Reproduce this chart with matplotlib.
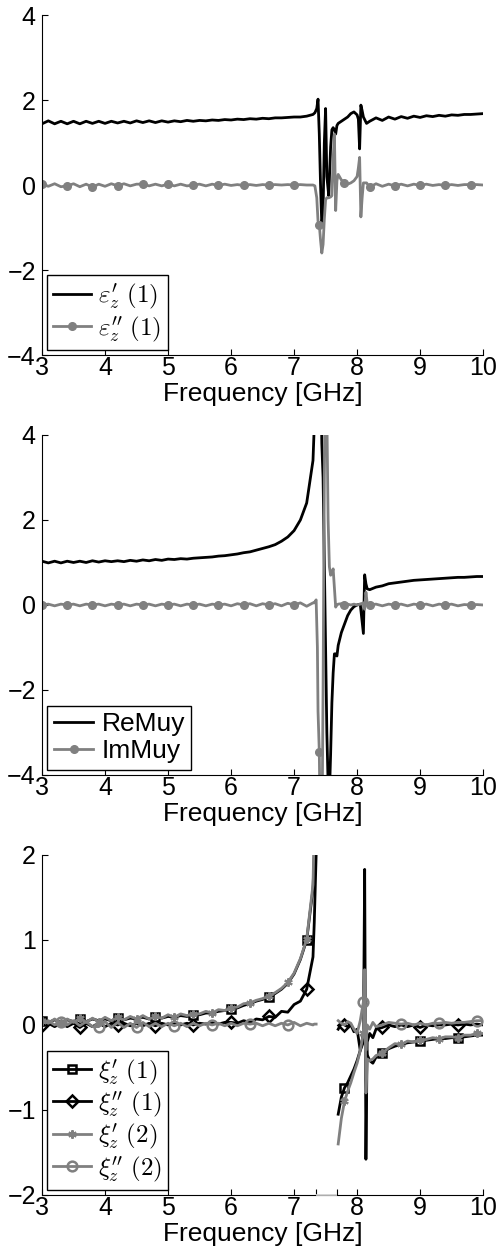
import numpy as np
import matplotlib
matplotlib.use('Agg')
import matplotlib.pyplot as plt

plt.rcParams['font.family'] = ['Liberation Sans', 'DejaVu Sans']
plt.rcParams['mathtext.fontset'] = 'cm'
plt.rcParams['font.size'] = 17

GRAY = '#808080'

# ---------------- panel 1 : permittivity ----------------
f_lo = np.round(np.arange(3.0, 7.31, 0.1), 2)
f_hi = np.round(np.arange(8.3, 10.01, 0.1), 2)
f1_res = [7.33, 7.36, 7.38, 7.40, 7.42, 7.44, 7.46, 7.48, 7.50, 7.52, 7.55, 7.58,
          7.60, 7.62, 7.64, 7.66, 7.68, 7.70, 7.75, 7.80, 7.85, 7.90, 7.95, 8.00,
          8.02, 8.04, 8.06, 8.08, 8.10, 8.15, 8.20]
f1 = np.concatenate([f_lo, f1_res, f_hi])

eps_re = [1.44, 1.51, 1.44, 1.50, 1.44, 1.50, 1.44, 1.50, 1.45, 1.50, 1.45, 1.50,
          1.46, 1.50, 1.46, 1.51, 1.47, 1.51, 1.47, 1.51, 1.48, 1.51, 1.49, 1.52,
          1.50, 1.52, 1.51, 1.53, 1.52, 1.54, 1.53, 1.55, 1.54, 1.56, 1.55, 1.57,
          1.56, 1.58, 1.58, 1.59, 1.60, 1.60, 1.62, 1.66,
          1.70, 1.80, 2.02, 1.20, 0.00, -0.95, -0.60, 1.00, 1.80, 0.20, -0.25, 0.90,
          1.30, 1.35, 1.30, 1.20, 1.40, 1.45, 1.50, 1.55, 1.60, 1.68, 1.72, 1.65,
          1.55, 0.85, 1.88, 1.75, 1.60, 1.45, 1.50,
          1.58, 1.52, 1.60, 1.55, 1.61, 1.57, 1.62, 1.59, 1.63, 1.61, 1.64, 1.62,
          1.65, 1.64, 1.66, 1.66, 1.67, 1.68]
eps_im = [0.02, -0.03, 0.03, -0.04, -0.02, 0.03, -0.04, 0.02, -0.05, 0.02, -0.03, 0.03,
          -0.02, 0.03, -0.02, 0.02, 0.02, -0.02, 0.02, -0.02, 0.02, -0.02, 0.02, -0.02,
          0.00, 0.02, -0.02, 0.02, -0.01, 0.02, -0.01, 0.01, -0.01, 0.01, -0.01, 0.01,
          0.00, 0.01, 0.00, 0.01, 0.00, 0.01, 0.00, 0.00,
          -0.02, -0.30, -0.85, -0.93, -1.30, -1.60, -1.40, -0.80, -0.35, -0.30, -0.30, -0.28,
          -0.25, 0.60, 1.20, -0.60, 0.10, 0.25, 0.12, 0.05, 0.02, 0.05, 0.10, 0.20,
          0.40, 0.65, -0.75, -0.30, 0.05, 0.05, -0.05,
          0.03, -0.03, 0.02, -0.02, 0.02, -0.02, 0.02, -0.01, 0.02, -0.01, 0.01, -0.01,
          0.01, -0.01, 0.01, 0.01, 0.01, 0.00]

# ---------------- panel 2 : permeability ----------------
f2_res = [7.32, 7.35, 7.37, 7.38, 7.40, 7.42, 7.44, 7.46, 7.48, 7.50, 7.52, 7.54,
          7.56, 7.58, 7.60, 7.62, 7.64, 7.66, 7.68, 7.70, 7.75, 7.80, 7.85, 7.90,
          7.95, 8.00, 8.05, 8.10, 8.12, 8.14, 8.16, 8.20]
f2 = np.concatenate([f_lo, f2_res, f_hi])

mu_re = [1.03, 0.99, 1.03, 0.99, 1.03, 1.00, 1.03, 1.00, 1.04, 1.01, 1.04, 1.02,
         1.04, 1.02, 1.05, 1.03, 1.06, 1.04, 1.07, 1.05, 1.08, 1.07, 1.09, 1.08,
         1.10, 1.11, 1.12, 1.13, 1.15, 1.16, 1.18, 1.20, 1.23, 1.25, 1.29, 1.33,
         1.37, 1.42, 1.50, 1.60, 1.75, 2.00, 2.40, 3.40,
         4.20, 7.00, 9.00, 9.00, 8.00, 6.00, 3.80, 3.00, 1.00, -1.00, -3.00, -4.20,
         -4.50, -3.50, -2.30, -1.60, -1.15, -1.15, -1.20, -0.95, -0.65, -0.45, -0.25, -0.12,
         -0.04, 0.00, 0.02, -0.67, 0.71, 0.50, 0.38, 0.36,
         0.42, 0.45, 0.50, 0.52, 0.54, 0.56, 0.58, 0.59, 0.60, 0.61, 0.62, 0.63,
         0.64, 0.65, 0.65, 0.66, 0.67, 0.67]
mu_im = [0.00, 0.02, -0.02, 0.02, 0.00, 0.02, -0.02, 0.02, 0.00, 0.02, -0.02, 0.02,
         0.00, 0.02, -0.02, 0.02, 0.00, 0.02, -0.02, 0.02, 0.00, 0.02, -0.02, 0.02,
         0.00, 0.02, -0.02, 0.02, 0.00, 0.02, -0.02, 0.03, 0.00, 0.03, -0.02, 0.03,
         0.00, 0.03, -0.02, 0.04, 0.00, 0.05, -0.03, 0.05,
         0.05, 0.12, -1.00, -2.50, -3.45, -6.00, -6.00, -2.00, 3.00, 6.00, 4.50, 2.00,
         0.90, 0.70, 0.75, 0.85, 0.40, -0.05, 0.00, 0.02, 0.03, 0.00, 0.02, 0.00,
         0.02, 0.00, 0.02, 0.05, -0.10, 0.30, 0.05, 0.00,
         0.02, -0.02, 0.02, 0.00, 0.02, -0.02, 0.02, 0.00, 0.02, -0.02, 0.02, 0.00,
         0.02, -0.02, 0.01, 0.00, 0.01, 0.00]

# ---------------- panel 3 : magnetoelectric ----------------
gap = [7.35, 7.68]
f3_mid = [7.32, 7.35, 7.50]
f3_right = [7.70, 7.75, 7.80, 7.85, 7.90, 7.95, 8.00, 8.05, 8.10, 8.12, 8.14, 8.16,
            8.20, 8.25]
f3 = np.concatenate([f_lo, f3_mid, f3_right, f_hi])
nan = np.nan

xi_re1 = [0.05, 0.03, 0.06, 0.03, 0.06, 0.04, 0.07, 0.04, 0.07, 0.05, 0.07, 0.05,
          0.08, 0.06, 0.08, 0.07, 0.09, 0.07, 0.09, 0.08, 0.10, 0.09, 0.11, 0.10,
          0.12, 0.12, 0.14, 0.14, 0.16, 0.17, 0.19, 0.20, 0.23, 0.25, 0.28, 0.30,
          0.33, 0.37, 0.42, 0.49, 0.60, 0.77, 1.00, 1.60,
          2.00, 3.00, nan,
          -1.05, -0.85, -0.74, -0.68, -0.60, -0.52, -0.42, -0.30, -0.10, 0.00, -0.20, -0.35,
          -0.42, -0.45,
          -0.38, -0.33, -0.28, -0.25, -0.23, -0.21, -0.20, -0.19, -0.18, -0.17, -0.16, -0.16,
          -0.15, -0.15, -0.14, -0.13, -0.12, -0.12]
xi_im1 = [0.00, 0.02, -0.02, 0.02, -0.02, 0.02, -0.03, 0.02, -0.02, 0.02, -0.02, 0.02,
          0.00, 0.02, -0.01, 0.02, -0.01, 0.02, -0.01, 0.02, 0.00, 0.02, 0.00, 0.02,
          0.00, 0.02, 0.01, 0.03, 0.01, 0.03, 0.03, 0.02, 0.05, 0.03, 0.07, 0.06,
          0.10, 0.09, 0.16, 0.15, 0.24, 0.28, 0.42, 0.80,
          1.20, 2.00, nan,
          -0.05, 0.02, 0.00, -0.02, 0.00, -0.08, -0.05, -0.30, -0.20, 1.83, -1.58, -0.20,
          -0.10, -0.15,
          -0.05, -0.03, 0.00, -0.02, 0.00, -0.02, 0.00, -0.03, 0.00, -0.01, 0.00, 0.00,
          0.01, 0.00, 0.01, 0.00, 0.01, 0.00]
xi_re2 = [0.05, 0.02, 0.07, 0.02, 0.07, 0.03, 0.08, 0.03, 0.08, 0.04, 0.09, 0.05,
          0.09, 0.06, 0.10, 0.07, 0.11, 0.07, 0.10, 0.08, 0.12, 0.09, 0.13, 0.11,
          0.13, 0.13, 0.16, 0.14, 0.18, 0.17, 0.20, 0.21, 0.25, 0.26, 0.29, 0.31,
          0.34, 0.38, 0.43, 0.50, 0.61, 0.78, 1.01, 1.65,
          2.30, 3.20, nan,
          -1.40, -1.10, -0.90, -0.78, -0.68, -0.56, -0.45, -0.30, -0.10, 0.65, -0.80, -0.40,
          -0.42, -0.40,
          -0.36, -0.33, -0.27, -0.22, -0.23, -0.19, -0.20, -0.18, -0.17, -0.15, -0.16, -0.14,
          -0.14, -0.15, -0.12, -0.12, -0.10, -0.10]
xi_im2 = [0.02, 0.05, 0.00, 0.04, 0.00, 0.05, -0.01, 0.04, -0.02, -0.02, 0.04, -0.03,
          0.03, -0.03, 0.02, -0.03, 0.03, -0.02, 0.02, -0.02, 0.02, -0.01, 0.02, -0.02,
          0.02, -0.01, 0.02, 0.00, 0.02, -0.01, 0.02, -0.01, 0.02, 0.01, 0.02, -0.01,
          0.02, -0.01, 0.02, 0.00, 0.03, -0.01, 0.02, 0.00,
          0.01, 0.01, nan,
          0.05, 0.02, 0.00, 0.04, 0.02, -0.05, -0.10, 0.05, 0.27, 0.50, -0.30, 0.00,
          -0.05, 0.03,
          -0.02, 0.00, 0.03, 0.02, 0.01, 0.02, 0.00, 0.02, 0.00, 0.02, 0.02, 0.03,
          0.02, 0.03, 0.03, 0.04, 0.05, 0.05]

# marker positions (GHz)
mk_04 = np.round(np.arange(3.0, 9.81, 0.4), 2)
mk_06 = np.round(np.arange(3.0, 9.61, 0.6), 2)
mk_03 = np.round(np.arange(3.0, 9.91, 0.3), 2)
mk_06b = np.round(np.arange(3.3, 9.91, 0.6), 2)


def marks(f, pos):
    return list(np.where(np.isin(np.round(f, 2), pos))[0])


def style(ax, ylim, yticks):
    ax.set_xlim(3, 10)
    ax.set_ylim(*ylim)
    ax.set_xticks(range(3, 11))
    ax.set_yticks(yticks)
    ax.spines['top'].set_visible(False)
    ax.spines['right'].set_visible(False)
    for s in ['left', 'bottom']:
        ax.spines[s].set_linewidth(0.8)
    ax.tick_params(direction='in', length=4, width=0.8, labelsize=18)
    ax.tick_params(axis='x', pad=1)
    ax.tick_params(axis='y', pad=4.5)
    ax.set_xlabel('Frequency [GHz]', fontsize=19, labelpad=1)


def legend(ax, **kw):
    lg = ax.legend(loc='lower left', fancybox=False, edgecolor='black', framealpha=1,
                   borderaxespad=0.2, borderpad=0.25, handlelength=1.5,
                   handletextpad=0.3, labelspacing=0.1, **kw)
    lg.get_frame().set_linewidth(1.0)
    return lg


fig = plt.figure(figsize=(4.99, 12.51), dpi=100)
ax1 = fig.add_axes([0.0842, 0.7162, 0.884, 0.2718])
ax2 = fig.add_axes([0.0842, 0.3805, 0.884, 0.2718])
ax3 = fig.add_axes([0.0842, 0.0448, 0.884, 0.2718])

# panel 1
ax1.plot(f1, eps_re, color='black', lw=2, label=r"$\varepsilon^{\prime}_{z}\ (1)$")
ax1.plot(f1, eps_im, color=GRAY, lw=2, marker='o', ms=5.5, markevery=marks(f1, mk_04),
         label=r"$\varepsilon^{\prime\prime}_{z}\ (1)$")
style(ax1, (-4, 4), [-4, -2, 0, 2, 4])
legend(ax1, fontsize=18)

# panel 2
ax2.plot(f2, mu_re, color='black', lw=2, label='ReMuy')
ax2.plot(f2, mu_im, color=GRAY, lw=2, marker='o', ms=5.5, markevery=marks(f2, mk_04),
         label='ImMuy')
style(ax2, (-4, 4), [-4, -2, 0, 2, 4])
legend(ax2, fontsize=19)

# panel 3
ax3.plot(f3, xi_re1, color='black', lw=2, marker='s', ms=6, mfc='none', mew=1.8,
         markevery=marks(f3, mk_06), label=r"$\xi^{\prime}_{z}\ (1)$")
ax3.plot(f3, xi_im1, color='black', lw=2, marker='D', ms=6, mfc='none', mew=1.8,
         markevery=marks(f3, mk_06), label=r"$\xi^{\prime\prime}_{z}\ (1)$")
ax3.plot(f3, xi_re2, color=GRAY, lw=2, marker=(6, 2, 0), ms=6, mew=1.5,
         markevery=marks(f3, mk_03), label=r"$\xi^{\prime}_{z}\ (2)$")
ax3.plot(f3, xi_im2, color=GRAY, lw=2, marker='o', ms=7, mfc='none', mew=1.8,
         markevery=marks(f3, mk_06b), label=r"$\xi^{\prime\prime}_{z}\ (2)$")
style(ax3, (-2, 2), [-2, -1, 0, 1, 2])
ax3.set_xticks(gap, minor=True)
ax3.tick_params(which='minor', direction='in', length=4, width=0.8)
ax3.hlines(-2, gap[0], gap[1], color='#d0d0d0', lw=1.2, zorder=3, clip_on=False)
legend(ax3, fontsize=18)

fig.savefig('out.png', dpi=100)
